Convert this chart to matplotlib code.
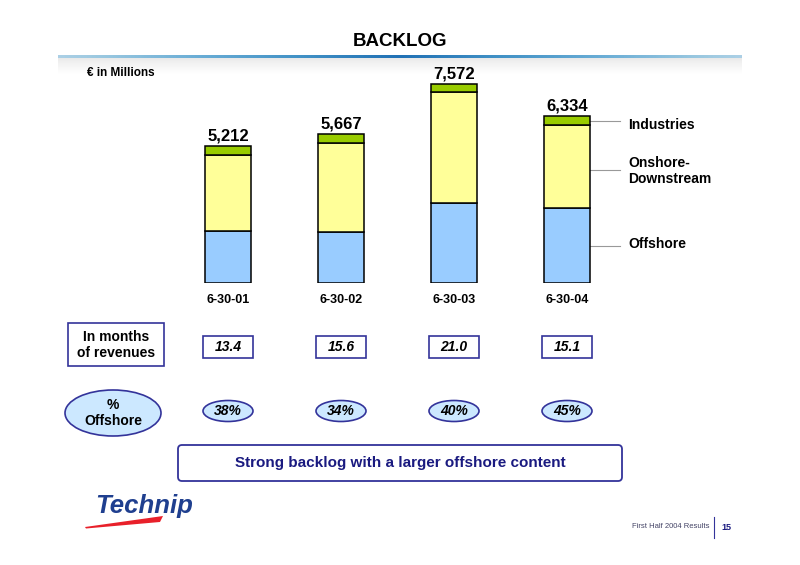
import numpy as np
import matplotlib.pyplot as plt
from matplotlib.patches import FancyBboxPatch, Ellipse, Rectangle, Polygon

plt.rcParams['font.family'] = ['Liberation Sans', 'DejaVu Sans']

# Data (EUR millions)
dates = ['6-30-01', '6-30-02', '6-30-03', '6-30-04']
totals = [5212, 5667, 7572, 6334]
offshore = [1981, 1927, 3029, 2850]
onshore = [2876, 3410, 4213, 3154]
industries = [355, 330, 330, 330]
months_rev = [13.4, 15.6, 21.0, 15.1]
pct_offshore = [38, 34, 40, 45]

c_off = '#99CCFF'
c_on = '#FFFF99'
c_ind = '#99CC00'
navy = '#1A1A80'

W, H = 800, 565
fig = plt.figure(figsize=(8, 5.65), dpi=100)

# overlay axes in pixel coords (y down)
ov = fig.add_axes([0, 0, 1, 1])
ov.set_xlim(0, W)
ov.set_ylim(H, 0)
ov.axis('off')

# title and blue rule with shadow
ov.text(400, 41, 'BACKLOG', ha='center', va='center', fontsize=13.5, fontweight='bold')
grad = np.abs(np.linspace(-1, 1, 400))
ov.imshow(np.vstack([grad, grad]), extent=[58, 742, 58.5, 55.5], cmap='Blues_r',
          vmin=-0.6, vmax=1.8, aspect='auto', zorder=2)
# shadow under the rule, fading downwards
shade = np.linspace(1, 0, 30)[:, None] * np.ones((1, 50))
ov.imshow(shade, extent=[58, 742, 74, 58.5], cmap='Greys', vmin=0, vmax=6,
          aspect='auto', zorder=1, origin='upper')
ov.text(87, 73, '€ in Millions', ha='left', va='center', fontsize=8.5, fontweight='bold', zorder=3)

# bars axes: baseline at y=283 px, 1 px ~ 38 EUR m
base_px, top_px = 283, 60
left_px, step = 228 - 113 * 0.5, 113
ax = fig.add_axes([left_px / W, (H - base_px) / H, 4 * step / W, (base_px - top_px) / H])
ax.set_xlim(-0.5, 3.5)
ax.set_ylim(0, (base_px - top_px) * 38)
ax.axis('off')

x = np.arange(len(dates))
bw = 0.41
ax.bar(x, offshore, bw, color=c_off, edgecolor='black', linewidth=1.1)
ax.bar(x, onshore, bw, bottom=offshore, color=c_on, edgecolor='black', linewidth=1.1)
bot2 = np.array(offshore) + np.array(onshore)
ax.bar(x, industries, bw, bottom=bot2, color=c_ind, edgecolor='black', linewidth=1.1)
for i, t in enumerate(totals):
    ax.text(i, t + 90, f'{t:,}', ha='center', va='bottom', fontsize=12, fontweight='bold')

# legend labels with leader lines
def seg_y(v):
    return base_px - v / 38.0

legend = [('Industries', bot2[3] + industries[3] / 2, 125),
          ('Onshore-\nDownstream', offshore[3] + onshore[3] * 0.46, 171),
          ('Offshore', offshore[3] / 2, 244)]
for label, v, ty in legend:
    yy = seg_y(v)
    ov.plot([590, 620], [yy, yy], color='#999999', linewidth=0.8)
    ov.text(628, ty, label, ha='left', va='center', fontsize=10, fontweight='bold',
            linespacing=1.25)

cx = [228 + step * i for i in range(4)]
for xc, d in zip(cx, dates):
    ov.text(xc, 300, d, ha='center', va='center', fontsize=9, fontweight='bold')

# months of revenues row
ov.add_patch(Rectangle((68, 323), 96, 43, facecolor='white', edgecolor='#33339A', linewidth=1.2))
ov.text(116, 345, 'In months\nof revenues', ha='center', va='center', fontsize=10,
        fontweight='bold', linespacing=1.15)
for xc, m in zip(cx, months_rev):
    ov.add_patch(Rectangle((xc - 25, 336), 50, 22, facecolor='white', edgecolor='#33339A', linewidth=1.2))
    ov.text(xc, 347, f'{m:.1f}', ha='center', va='center', fontsize=10,
            fontweight='bold', style='italic')

# % offshore row
ov.add_patch(Ellipse((113, 413), 96, 46, facecolor='#CCE8FF', edgecolor='#33339A', linewidth=1.2))
ov.text(113, 413, '%\nOffshore', ha='center', va='center', fontsize=10, fontweight='bold',
        linespacing=1.1)
for xc, p in zip(cx, pct_offshore):
    ov.add_patch(Ellipse((xc, 411), 50, 21, facecolor='#CCE8FF', edgecolor='#33339A', linewidth=1.2))
    ov.text(xc, 411, f'{p}%', ha='center', va='center', fontsize=10,
            fontweight='bold', style='italic')

# conclusion box
ov.add_patch(FancyBboxPatch((178, 445), 444, 36, boxstyle='round,pad=0,rounding_size=4',
                            facecolor='white', edgecolor='#33339A', linewidth=1.3))
ov.text(400, 463, 'Strong backlog with a larger offshore content', ha='center', va='center',
        fontsize=11, fontweight='bold', color=navy)

# logo and footer
ov.text(95, 513, 'Technip', ha='left', va='baseline', fontsize=18.5, fontweight='bold',
        style='italic', color='#1F3F8F')
ov.add_patch(Polygon([(85, 527), (163, 516), (160, 522), (86, 528.5)], closed=True,
                     facecolor='#E8202A', edgecolor='none'))
ov.text(709, 527, 'First Half 2004 Results', ha='right', va='center', fontsize=5.5, color='#444466')
ov.plot([714, 714], [517, 538], color='#33339A', linewidth=0.8)
ov.text(721, 527, '15', ha='left', va='center', fontsize=6.5, fontweight='bold', color=navy)

fig.savefig('out.png', dpi=100)
